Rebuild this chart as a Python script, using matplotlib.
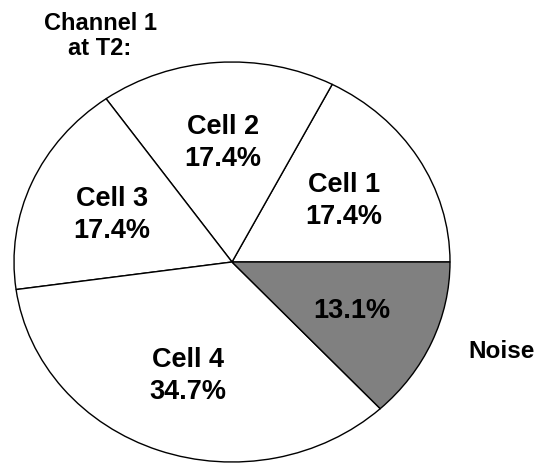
import matplotlib.pyplot as plt
import numpy as np

plt.rcParams['font.family'] = ['Liberation Sans', 'DejaVu Sans']
plt.rcParams['font.weight'] = 'bold'

# slice data, counter-clockwise from 3 o'clock
names = ["Cell 1", "Cell 2", "Cell 3", "Cell 4", "Noise"]
shares = [17.4, 17.4, 17.4, 34.7, 13.1]
colors = ["white", "white", "white", "white", "#808080"]

W, H = 536, 464
fig = plt.figure(figsize=(W / 100, H / 100), dpi=100)
fig.patch.set_facecolor("white")

# pie is drawn slightly wider than tall
ax = fig.add_axes([14 / W, 1 / H, 436 / W, 400 / H])
wedges, _ = ax.pie(shares, colors=colors, startangle=0, counterclock=True,
                   wedgeprops=dict(edgecolor="black", linewidth=1.0))
ax.set_aspect("auto")
ax.set_xlim(-1, 1)
ax.set_ylim(-1, 1)
ax.axis("off")

for w, name, val in zip(wedges, names, shares):
    mid = np.deg2rad((w.theta1 + w.theta2) / 2)
    x, y = 0.6 * np.cos(mid), 0.6 * np.sin(mid)
    txt = f"{val:.1f}%" if name == "Noise" else f"{name}\n{val:.1f}%"
    ax.text(x, y, txt, ha="center", va="center", fontsize=19.5,
            fontweight="bold", linespacing=1.3)

fig.text(100 / W, 1 - 36 / H, "Channel 1\nat T2:", ha="center", va="center",
         fontsize=17, fontweight="bold", linespacing=1.15)
fig.text(502 / W, 1 - 352 / H, "Noise", ha="center", va="center",
         fontsize=17.5, fontweight="bold")

fig.savefig("out.png", dpi=100, facecolor="white")
